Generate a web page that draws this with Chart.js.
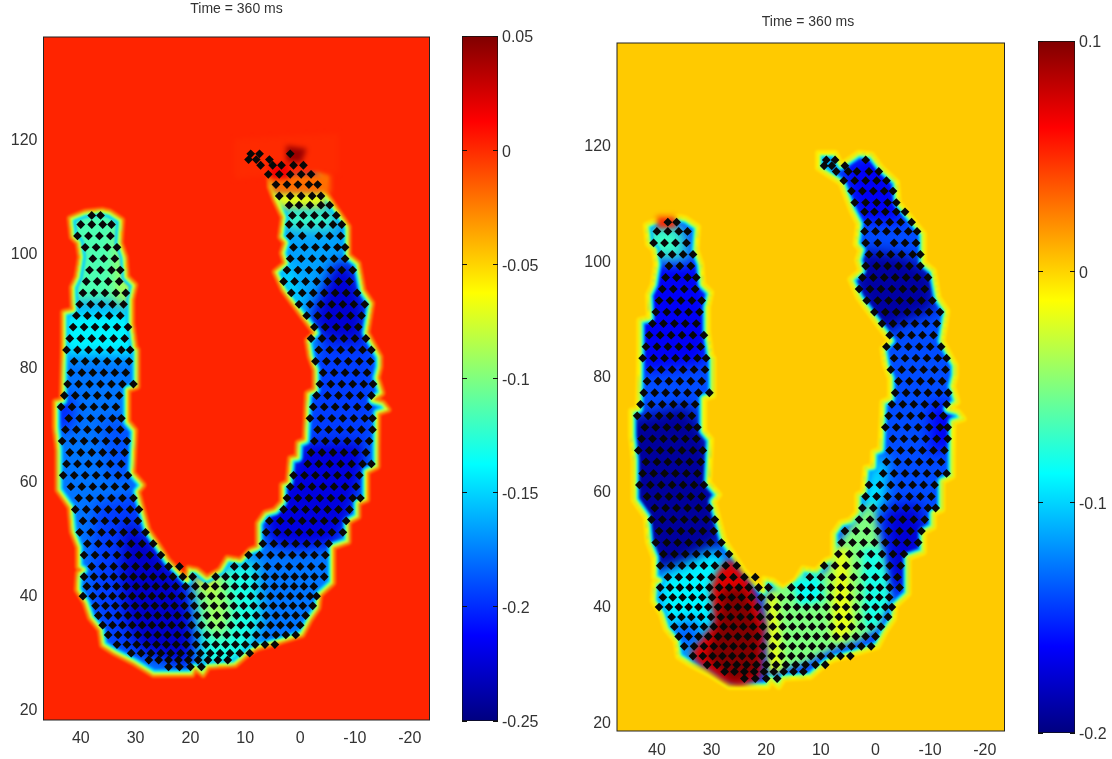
<!DOCTYPE html>
<html><head><meta charset="utf-8">
<script src="https://cdn.jsdelivr.net/npm/chart.js@4"></script>
<style>
html,body{margin:0;padding:0;background:#fff;width:1112px;height:759px;overflow:hidden}
canvas{position:absolute;top:0}
</style></head><body>
<canvas id="mainL" width="473" height="759" style="left:0"></canvas>
<canvas id="barL" width="110" height="759" style="left:440px"></canvas>
<canvas id="mainR" width="468" height="759" style="left:574px"></canvas>
<canvas id="barR" width="96" height="759" style="left:1016px"></canvas>
<script>
const titleText = 'Time = 360 ms';
const xTicks = [40,30,20,10,0,-10,-20];
const yTicks = [20,40,60,80,100,120];
const barTicksL = [0.05,0,-0.05,-0.1,-0.15,-0.2,-0.25];
const barTicksR = [0.1,0,-0.1,-0.2];
const rangeL = [-0.25,0.05];
const rangeR = [-0.2,0.1];
const backgroundL = 0.002;
const backgroundR = 0.003;

// Wall outline (x, y in axis units)
const wallA = [[39.2,107.2],[42,106.1],[41.6,102.8],[40.5,101.8],[40.1,99.3],[40.7,95.8],[41.6,94],[41.4,90],[43.2,89.6],[43.2,84.2],[43.4,74.2],[44.7,73.9],[44.7,69.5],[44.2,65.4],[44.2,58.4],[42,55.4],[41.6,51.1],[40.5,48.4],[40.5,44.9],[39.6,44.4],[40.5,43.9],[40.7,40.9],[39.2,38.6],[38.3,36],[36.5,33.9],[36.1,31.2],[33.8,29.8],[30.5,28.2],[26.8,26],[19.7,26],[19.2,27.2],[17.7,26],[16.8,27.4],[11.9,27.7],[9.1,30],[7.8,30.7],[3.6,31.8],[-0.4,33],[-1.8,35.6],[-3.3,37.7],[-3.6,40],[-6,42.1],[-6,48.4],[-8.8,49.3],[-8.8,52.8],[-10.6,53.7],[-10.6,56.1],[-12.2,56.7],[-12.2,61.6],[-14.1,62.5],[-14.1,66],[-14.2,71.9],[-16.1,72.5],[-15.1,73.7],[-13.3,74.2],[-15,75.4],[-14.1,78.1],[-14.6,80],[-14.6,81.8],[-12.2,86],[-13.1,91.2],[-11.5,93.5],[-10.6,98.2],[-8.8,99.6],[-8.8,104.6]];
const tipL = [[-4.2,111.1],[-4.6,113.3],[-1.3,116.3],[1.5,118.1],[5.5,117.2],[9.7,118.1],[9.7,116],[5.5,114],[5.5,111.6],[4.6,109.3]];
const tipR = [[-4.2,110],[-3.9,113.6],[-1.1,116],[0.7,118.3],[3.1,118.6],[6.3,116.5],[7.4,118.6],[10.5,118.6],[10.5,116],[6.3,113.4],[4.4,108.7]];
const wallB = [[3.1,106.3],[3.6,102.8],[2.7,101.8],[3.3,100],[2.7,98.2],[4.6,96.7],[3.1,93.5],[1.8,91.8],[-0.5,88.8],[-2.7,86],[-1.3,84.7],[-1.8,81.8],[-2.7,79.5],[-2.7,76],[-1.3,75.4],[-0.9,67.2],[0.4,66.7],[0.5,64.2],[1.8,64],[2.2,59.8],[3.3,59.3],[3.3,56.3],[4.6,54.9],[6.4,54.4],[7.7,52.6],[7.7,48.4],[9.1,47.9],[10.9,46.1],[13.3,46.5],[14.6,44.4],[17,43],[18.8,44.4],[20.4,44.7],[20.6,42.6],[24.1,46.1],[26.1,49.1],[27.7,51.4],[29.6,58.1],[28.6,59.3],[30.5,61.4],[30.1,68.9],[31.4,70.4],[31.4,76],[29.7,76.5],[29.7,83],[30.1,83.5],[30.7,87.7],[30.7,91.8],[30.1,94.4],[31.6,95.8],[31.9,99.3],[32.8,101.8],[32.5,105.8],[34.7,107.2],[36.1,107.5]];

// Potential levels inside the wall: [value, outline]
const baseL = -0.178;
const regionsL = [
 [-0.115,[[43.8,108.4],[29,108.4],[29,91.5],[43.8,91]]],
 [-0.14,[[44,90],[29,90],[29,82],[44,82]]],
 [-0.085,[[33.5,104],[30.5,104],[30,91],[33.5,91]]],
 [-0.205,[[44.5,75],[41.5,75],[41.5,69],[44.5,69]]],
 [-0.188,[[36.5,71],[30,71],[30,60],[35,60]]],
 [-0.195,[[37.4,55.8],[28.3,58.4],[18.2,40.9],[15.5,26.8],[34.7,30.4],[38.3,39.1]]],
 [-0.228,[[31.9,53.2],[26.5,48.8],[21,40.9],[19.2,32.1],[21,27.7],[29.2,30.4],[31.9,35.6],[32.8,44.4]]],
 [-0.178,[[8,47],[-5.5,47],[-5.5,35],[1,33],[6,31],[8.5,36]]],
 [-0.13,[[19.2,42.6],[11,46],[8,46],[7,36],[9,30],[13.7,26.5],[18.2,26.5]]],
 [-0.09,[[18.5,43],[14,44.5],[12.5,37],[14,32],[17.5,34]]],
 [-0.055,[[19,44],[16,44],[16,41],[18.5,41]]],
 [-0.195,[[-2,86],[-14,86],[-14,67],[-1,67]]],
 [-0.222,[[6.9,53.2],[0.9,64.6],[-0.9,67.2],[-11.9,67.2],[-11.9,61.9],[-9.1,53.2],[-6.4,48.8],[0,47.9],[5.5,48.8]]],
 [-0.165,[[3,104],[-9,104],[-9,97],[-1,90],[4,92]]],
 [-0.225,[[-6,98.4],[-9.5,98.4],[-12.2,90],[-11.3,83.9],[-4.6,84.7],[-1.8,88.2]]],
 [-0.14,[[4,98],[2,98],[-1,86],[-3,84],[-2,82],[2,90]]],
 [-0.12,[[4,108],[-7,108],[-6.5,104],[3,104]]]
];
const topsL = [
 [-0.07,[[5,111],[-5,111],[-4.5,108],[4,108]]]
];
const overL = [
 [-0.02,[[6,114],[-5.5,114],[-5.5,110.5],[5,110.5]]],
 [0,[[12,120],[-7,121],[-7,114],[6,113.5],[12,113]]],
 [0.015,[[5.5,115.5],[2,115.5],[2,113],[5.5,113]]],
 [0.042,[[2.5,118.8],[-1.2,118.3],[-0.2,115.8],[2.5,116]]]
];
const baseR = -0.14;
const regionsR = [
 [-0.1,[[10.5,119],[7,119],[7,115],[10.5,115]]],
 [-0.165,[[6.3,116.5],[-0.6,119],[-4.2,112],[-5.2,106.6],[3.1,106.6]]],
 [-0.19,[[2.8,101.8],[-5.2,101],[-11.2,97.4],[-10.7,91.3],[-4.2,88.8],[-1.5,87],[1.3,90],[4,95.8]]],
 [-0.165,[[-10,75],[-14.5,75],[-14.5,68],[-10,66]]],
 [-0.09,[[3,57],[0,66],[-2,66],[-1.5,56]]],
 [-0.175,[[-1.5,57],[-8,58],[-9.5,52],[-6.5,44],[-3,42],[-2,50]]],
 [-0.165,[[41.8,99.2],[31.7,99.2],[29.8,87.9],[31.7,81.8],[42.7,80.6],[45.1,89.6]]],
 [-0.192,[[45.9,72.3],[34.4,74.9],[30.4,68.8],[28,51.4],[32.6,46.2],[40,46.2],[43.6,54.9],[45.9,63.6]]],
 [-0.07,[[42.7,106.1],[35.4,106.1],[34.5,100.2],[41.8,100.2]]],
 [-0.09,[[40,45],[29.5,50],[26,46.5],[30.5,33.5],[34,30],[39.5,36]]],
 [-0.135,[[39,36],[33,38],[31,33.5],[35,31.5]]]
];
const topsR = [
 [-0.05,[[19.7,42.7],[14.2,45],[9,46],[6,52],[2,57],[0.5,58],[-1,50],[-2,42],[-0.5,36.5],[3,34],[8,32.5],[13,30],[19,28.5]]],
 [-0.08,[[2.5,50],[-1,50],[-2.8,41],[0,36],[2,36]]],
 [-0.085,[[15.5,44.5],[10,45.5],[9.5,41],[14,40]]],
 [-0.02,[[7.5,50],[5,50],[4,36],[6,34],[8,34.5],[8,42]]],
 [-0.02,[[20,42],[18,42],[17,29],[19.5,28]]],
 [0.072,[[26.5,48.3],[22.8,44],[20.3,37],[21,27.6],[24.7,25.9],[27.6,26.6],[32.6,30.1],[33.9,31.8],[29.5,37],[30.2,43.3],[28.9,46.2]]],
 [0.1,[[24,43],[21.2,35.8],[21.5,28],[26.2,26.8],[31,31],[28.6,37.5],[28,43]]]
];
const overR = [
 [0.05,[[40,107.6],[36.5,107.6],[36.5,105.6],[40,105.6]]]
];
const edgeL = [-0.16,-0.1375,-0.1,-0.0625];
const edgeR = [-0.115,-0.0875,-0.05,-0.0125];
const rimL = -0.025;
const rimR = -0.006;

// Electrode sites: [y, x, x, ...]
const siteRows = [
[27.4,24,22,20,18],
[28.6,27.6,25.8,24,22.2,20.4,18.6,16.8,15,13.2],
[29.8,30.8,29,27.2,25.4,23.6,21.8,20,18.2,16.4,14.6,12.8,11,9.2],
[31.3,33.4,31.6,29.8,28,26.2,24.4,22.6,20.8,19,17.2,15.4,13.6,11.8,10,8.2,6.4,4.6],
[33,35,33.2,31.4,29.6,27.8,26,24.2,22.4,20.6,18.8,17,15.2,13.4,11.6,9.8,8,6.2,4.4,2.6,0.8],
[34.7,36,34.2,32.4,30.6,28.8,27,25.2,23.4,21.6,19.8,18,16.2,14.4,12.6,10.8,9,7.2,5.4,3.6,1.8,0],
[36.4,36.8,35,33.2,31.4,29.6,27.8,26,24.2,22.4,20.6,18.8,17,15.2,13.4,11.6,9.8,8,6.2,4.4,2.6,0.8,-1],
[38.1,37.3,35.5,33.7,31.9,30.1,28.3,26.5,24.7,22.9,21.1,19.3,17.5,15.7,13.9,12.1,10.3,8.5,6.7,4.9,3.1,1.3,-0.5,-2.3],
[39.8,39.6,37.8,36,34.2,32.4,30.6,28.8,27,25.2,23.4,21.6,19.8,18,16.2,14.4,12.6,10.8,9,7.2,5.4,3.6,1.8,0,-1.8,-3],
[41.5,38.9,37.1,35.3,33.5,31.7,29.9,28.1,26.3,24.5,22.7,20.9,19.1,17.3,15.5,13.7,11.9,10.1,8.3,6.5,4.7,2.9,1.1,-0.7,-2.5],
[43.2,39.4,37.6,35.8,34,32.2,30.4,28.6,26.8,25,23.2,21.4,19.6,15.4,13.6,11.8,10,8.2,6.4,4.6,2.8,1,-0.8,-2.6,-4.4],
[45,38,36,34,32,30,28,26,24,22,12,10,8,6,4,2,0,-2,-4],
[47,39.4,37.4,35.4,33.4,31.4,29.4,27.4,25.4,9.4,7.4,5.4,3.4,1.4,-0.6,-2.6,-4.6],
[49,38.8,36.8,34.8,32.8,30.8,28.8,26.8,6.8,4.8,2.8,0.8,-1.2,-3.2,-5.2],
[51,40.2,38.2,36.2,34.2,32.2,30.2,28.2,6.2,4.2,2.2,0.2,-1.8,-3.8,-5.8,-7.8],
[53,39.6,37.6,35.6,33.6,31.6,29.6,5.6,3.6,1.6,-0.4,-2.4,-4.4,-6.4,-8.4],
[55,41,39,37,35,33,31,29.4,3,1,-1,-3,-5,-7,-9],
[57,40.4,38.4,36.4,34.4,32.4,30.4,2.4,0.4,-1.6,-3.6,-5.6,-7.6,-9.6,-11],
[59,41.8,39.8,37.8,35.8,33.8,31.8,1.8,-0.2,-2.2,-4.2,-6.2,-8.2,-10.2],
[61,43.2,41.2,39.2,37.2,35.2,33.2,31.4,1.2,-0.8,-2.8,-4.8,-6.8,-8.8,-10.8],
[63,42.6,40.6,38.6,36.6,34.6,32.6,-1.4,-3.4,-5.4,-7.4,-9.4,-11.4,-13],
[65,42,40,38,36,34,32,-2,-4,-6,-8,-10,-12],
[67,43.4,41.4,39.4,37.4,35.4,33.4,31.6,-2.6,-4.6,-6.6,-8.6,-10.6,-12.6],
[69,42.8,40.8,38.8,36.8,34.8,32.8,-3.2,-5.2,-7.2,-9.2,-11.2,-13.2],
[71,42.2,40.2,38.2,36.2,34.2,32.6,-1.8,-3.8,-5.8,-7.8,-9.8,-11.8,-13.2],
[73,43.6,41.6,39.6,37.6,35.6,33.6,-2.4,-4.4,-6.4,-8.4,-10.4,-12.4],
[75,43,41,39,37,35,33,-3,-5,-7,-9,-11,-13],
[77,42.4,40.4,38.4,36.4,34.4,32.4,30.4,-3.6,-5.6,-7.6,-9.6,-11.6,-13.3],
[79,41.8,39.8,37.8,35.8,33.8,31.8,-4.2,-6.2,-8.2,-10.2,-12.2],
[81,41.2,39.2,37.2,35.2,33.2,31.2,-2.8,-4.8,-6.8,-8.8,-10.8,-12.8],
[83,42.6,40.6,38.6,36.6,34.6,32.6,31,-3.4,-5.4,-7.4,-9.4,-11.4,-13],
[85,42,40,38,36,34,32,-2,-4,-6,-8,-10,-12],
[87,41.4,39.4,37.4,35.4,33.4,31.4,-2.6,-4.6,-6.6,-8.6,-10.6],
[89,40.8,38.8,36.8,34.8,32.8,-1.2,-3.2,-5.2,-7.2,-9.2,-11.2],
[91,40.2,38.2,36.2,34.2,32.2,0.2,-1.8,-3.8,-5.8,-7.8,-9.8,-11.8],
[93,39.6,37.6,35.6,33.6,31.8,1.6,-0.4,-2.4,-4.4,-6.4,-8.4,-10.4],
[95,39,37,35,33,3,1,-1,-3,-5,-7,-9],
[97,38.4,36.4,34.4,32.8,2.4,0.4,-1.6,-3.6,-5.6,-7.6,-9.6],
[99,37.8,35.8,33.8,1.8,-0.2,-2.2,-4.2,-6.2,-8.2],
[101,39.2,37.2,35.2,33.4,1.2,-0.8,-2.8,-4.8,-6.8,-8.2],
[103,40.6,38.6,36.6,34.6,1.8,-0.4,-3.4,-5.4,-7.4],
[105,40,38,36,34.4,2,0,-2,-4,-6,-7.6],
[106.6,38,36.4,1.4,-0.6,-2.6,-4.6,-6.6],
[108.4,2,0.2,-1.8,-3.8,-5.4],
[110,3.8,1.8,-0.2,-2.2,-3.8],
[112,4.4,2.4,0.4,-1.6,-3.2],
[113.8,5.8,3.8,1.8,-0.2,-2],
[115.4,7.2,5,3.4,1.2,-0.6],
[116.4,9.4,8,5.6],
[117.4,9,7.4,1.8]
];

function jet(v, range){
  const t = Math.min(1, Math.max(0, (v-range[0])/(range[1]-range[0])));
  const c = k => Math.round(255*Math.min(1, Math.max(0, 1.5-Math.abs(4*t-k))));
  return `rgb(${c(3)},${c(2)},${c(1)})`;
}
const asPoints = list => list.map(p => ({x:p[0], y:p[1]}));
const sitePoints = siteRows.flatMap(r => r.slice(1).map(x => ({x, y:r[0]})));

function heatPlugin(range, background, base, edge, rim){
  return {id:'heat', beforeDatasetsDraw(chart){
    const a = chart.chartArea;
    const off = document.createElement('canvas');
    off.width = chart.width; off.height = chart.height;
    const c = off.getContext('2d');
    c.lineJoin = 'round';
    c.fillStyle = jet(background, range);
    c.fillRect(0,0,off.width,off.height);
    const trace = i => {
      const pts = chart.getDatasetMeta(i).data;
      c.beginPath();
      pts.forEach((p,k) => k ? c.lineTo(p.x,p.y) : c.moveTo(p.x,p.y));
      c.closePath();
    };
    const sets = chart.data.datasets;
    const wall = sets.findIndex(d => d.heat === 'wall');
    const paint = (kind, blur) => sets.forEach((d,i) => {
      if (d.heat !== kind) return;
      c.filter = `blur(${blur}px)`;
      c.fillStyle = jet(d.level, range);
      trace(i); c.fill();
      c.filter = 'none';
    });
    trace(wall);
    c.strokeStyle = jet(rim, range); c.lineWidth = 6; c.stroke();
    c.save();
    trace(wall); c.clip();
    c.fillStyle = jet(base, range); c.fillRect(0,0,off.width,off.height);
    paint('region', 7);
    [11,8,6,3].forEach((w,k) => {
      c.strokeStyle = jet(edge[k], range); c.lineWidth = w;
      trace(wall); c.stroke();
    });
    paint('top', 3.5);
    c.restore();
    paint('over', 2.5);
    const g = chart.ctx;
    g.save();
    g.beginPath(); g.rect(a.left,a.top,a.right-a.left,a.bottom-a.top); g.clip();
    g.filter = 'blur(1.1px)';
    g.drawImage(off,0,0);
    g.restore();
  }, afterDatasetsDraw(chart){
    const a = chart.chartArea, g = chart.ctx;
    g.save(); g.strokeStyle = '#222'; g.lineWidth = 1;
    g.strokeRect(a.left,a.top,a.right-a.left,a.bottom-a.top);
    g.restore();
  }};
}
const hidden = (kind, level, pts) => ({heat:kind, level, data:asPoints(pts), showLine:false, pointRadius:0, pointHoverRadius:0});
const tickFont = {family:'"Liberation Sans", Arial, sans-serif', size:16};

function mainChart(id, cfg){
  new Chart(document.getElementById(id), {
    type:'scatter',
    data:{datasets:[
      {label:'sites', data:sitePoints, pointStyle:'rectRot', pointRadius:4.4, pointBackgroundColor:'#080808', pointBorderWidth:0, showLine:false},
      hidden('wall', cfg.base, cfg.wall),
      ...cfg.regions.map(r => hidden('region', r[0], r[1])),
      ...cfg.tops.map(r => hidden('top', r[0], r[1])),
      ...cfg.over.map(r => hidden('over', r[0], r[1]))
    ]},
    options:{
      responsive:false, animation:false, events:[],
      plugins:{legend:{display:false}, tooltip:{enabled:false},
        title:{display:true, text:titleText, color:'#333', font:{family:tickFont.family,size:14,weight:'normal'}, padding:{top:cfg.titleTop,bottom:cfg.titleBottom}}},
      scales:{
        x:{type:'linear', reverse:true, min:-23.6, max:cfg.xMax,
           grid:{display:false, drawTicks:false}, border:{display:false},
           afterBuildTicks:s => {s.ticks = xTicks.map(value => ({value}));},
           afterFit:s => {s.height = cfg.bottom;},
           ticks:{color:'#333', font:tickFont, padding:cfg.xPad, maxRotation:0, autoSkip:false}},
        y:{type:'linear', min:cfg.yMin, max:cfg.yMax,
           grid:{display:false, drawTicks:false}, border:{display:false},
           afterBuildTicks:s => {s.ticks = yTicks.map(value => ({value}));},
           afterFit:s => {s.width = cfg.axisW;},
           ticks:{color:'#333', font:tickFont, padding:6, labelOffset:2, autoSkip:false}},
        side:{type:'linear', position:'right', min:cfg.yMin, max:cfg.yMax,
           grid:{display:false, drawTicks:false}, border:{display:false},
           afterFit:s => {s.width = cfg.sideW;},
           ticks:{display:false}}
      }
    },
    plugins:[heatPlugin(cfg.range, cfg.background, cfg.base, cfg.edge, cfg.rim)]
  });
}
const jetStops = [0,0.125,0.375,0.625,0.875,1];
function colourBar(id, range, ticks, top, bottom, rightW){
  const common = {min:range[0], max:range[1],
    afterBuildTicks:s => {s.ticks = ticks.map(value => ({value}));},
    border:{display:false},
    grid:{drawOnChartArea:false, drawTicks:true, tickLength:-5, color:'#111', z:2}};
  new Chart(document.getElementById(id), {
    type:'bar',
    data:{labels:[''], datasets:[{data:[[range[0],range[1]]], barPercentage:1, categoryPercentage:1, borderColor:'#111', borderWidth:1, borderSkipped:false,
      backgroundColor:ctx => {
        const a = ctx.chart.chartArea;
        if (!a) return '#000';
        const g = ctx.chart.ctx.createLinearGradient(0,a.bottom,0,a.top);
        jetStops.forEach(s => g.addColorStop(s, jet(range[0]+s*(range[1]-range[0]), range)));
        return g;
      }}]},
    options:{responsive:false, animation:false, events:[],
      layout:{padding:{top,bottom}},
      plugins:{legend:{display:false}, tooltip:{enabled:false}, title:{display:false}},
      scales:{
        x:{display:false},
        y:{...common, position:'right', afterFit:s => {s.width = rightW;},
           ticks:{color:'#333', font:tickFont, padding:9, labelOffset:2, autoSkip:false, callback:v => String(v)}},
        y2:{...common, position:'left', afterFit:s => {s.width = 22;}, ticks:{display:false}}
      }}
  });
}
mainChart('mainL',{wall:[...wallA,...tipL,...wallB], background:backgroundL, base:baseL, regions:regionsL, tops:topsL, over:overL, edge:edgeL, rim:rimL, range:rangeL,
  xMax:46.8, yMin:18.07, yMax:137.9, sideW:43.5, axisW:43.5, bottom:39, xPad:9, titleTop:1, titleBottom:19.2});
mainChart('mainR',{wall:[...wallA,...tipR,...wallB], background:backgroundR, base:baseR, regions:regionsR, tops:topsR, over:overR, edge:edgeR, rim:rimR, range:rangeR,
  xMax:47.3, yMin:18.3, yMax:137.7, sideW:37.5, axisW:43, bottom:28, xPad:10, titleTop:14, titleBottom:12.2});
colourBar('barL', rangeL, barTicksL, 36, 38, 52);
colourBar('barR', rangeR, barTicksR, 41, 26, 37);
</script>
</body></html>
